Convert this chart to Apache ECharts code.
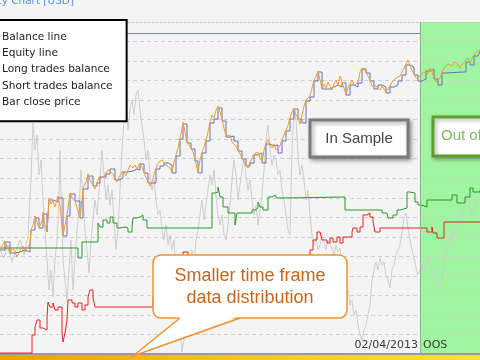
<!DOCTYPE html>
<html><head><meta charset="utf-8">
<script src="https://cdn.jsdelivr.net/npm/echarts@6/dist/echarts.min.js"></script>
<style>html,body{margin:0;padding:0;background:#f4f4f4;}#c{width:480px;height:360px;}</style>
</head><body><div id="c"></div>
<script>
// x = bar number, y = balance units
const seriesNames = ['Balance line','Equity line','Long trades balance','Short trades balance','Bar close price'];
const oosStart = 420, lastBar = 480;
const oosDate = '02/04/2013', oosLabel = 'OOS';
const maxLevel = 321;
const yMax = 332, gridSteps = 17;

const equity = [[0,104],[3,110],[5,113],[7,107],[10,101],[13,106],[15,102],[17,97],[20,104],[23,108],[25,102],[28,107],[30,110],[31,124],[33,129],[35,138],[37,132],[39,126],[42,133],[43,142],[45,128],[47,122],[49,156],[51,150],[53,153],[55,147],[58,158],[60,148],[63,118],[65,129],[67,139],[69,154],[70,161],[72,156],[75,154],[77,146],[80,136],[82,154],[83,166],[86,172],[88,180],[90,174],[93,169],[95,165],[97,172],[100,178],[103,176],[106,181],[108,184],[110,186],[113,180],[115,175],[117,172],[119,177],[121,180],[123,183],[126,178],[128,184],[130,189],[133,186],[135,189],[137,185],[140,191],[142,190],[144,182],[146,176],[148,172],[150,168],[152,172],[154,179],[156,186],[158,191],[160,189],[162,194],[164,192],[166,189],[168,190],[170,186],[172,182],[174,192],[176,199],[178,206],[180,216],[182,226],[183,232],[185,222],[187,212],[189,214],[191,206],[193,202],[195,194],[197,186],[198,182],[200,194],[202,202],[204,207],[206,214],[208,222],[210,232],[212,239],[214,236],[216,244],[218,248],[220,242],[222,234],[224,226],[226,218],[228,216],[230,219],[232,212],[234,214],[236,208],[238,204],[240,200],[242,196],[244,194],[246,189],[248,186],[250,192],[252,196],[254,200],[256,198],[258,202],[260,196],[262,192],[264,204],[266,211],[268,214],[270,209],[272,206],[274,210],[276,204],[278,202],[280,208],[282,214],[284,219],[286,224],[288,229],[290,236],[292,242],[294,246],[296,239],[298,236],[300,230],[302,232],[304,248],[306,254],[308,256],[310,258],[312,266],[314,274],[316,278],[318,283],[320,274],[322,266],[324,270],[326,266],[328,272],[330,268],[332,264],[334,270],[336,274],[338,268],[340,278],[342,272],[344,266],[346,260],[348,266],[350,270],[352,274],[354,268],[356,266],[358,272],[360,282],[362,286],[364,288],[366,282],[368,278],[370,274],[372,268],[374,266],[376,268],[378,270],[380,264],[382,268],[384,266],[386,262],[388,264],[390,268],[392,272],[394,270],[396,276],[398,274],[400,278],[402,280],[404,286],[406,290],[408,294],[410,288],[412,284],[414,280],[416,276],[418,274],[420,278],[422,276],[424,282],[426,284],[428,280],[430,286],[432,282],[434,276],[436,272],[438,270],[440,276],[442,282],[444,286],[446,288],[448,290],[450,292],[452,288],[454,292],[456,294],[458,290],[460,286],[462,288],[464,292],[466,294],[468,296],[470,290],[472,296],[474,299],[476,302],[478,300],[480,304]];

const balance = [[0,104],[5,112],[10,101],[15,102],[20,104],[25,102],[30,110],[31,124],[35,136],[39,126],[43,140],[47,122],[49,154],[53,152],[58,156],[63,118],[67,138],[70,160],[75,153],[80,136],[83,165],[88,178],[93,168],[97,171],[100,177],[106,180],[110,185],[115,174],[119,176],[123,182],[128,183],[133,185],[137,184],[140,190],[144,181],[148,171],[152,171],[156,185],[160,188],[164,191],[168,189],[172,181],[176,198],[180,215],[183,230],[187,211],[191,205],[195,193],[198,181],[202,201],[206,213],[210,231],[214,235],[218,246],[222,233],[226,217],[230,218],[234,213],[238,203],[242,195],[246,188],[250,191],[254,199],[258,201],[262,191],[266,210],[270,208],[274,209],[278,201],[282,213],[286,223],[290,235],[294,245],[298,235],[302,231],[306,253],[310,257],[314,273],[318,282],[322,265],[326,265],[330,267],[334,269],[338,267],[342,271],[346,259],[350,269],[354,267],[358,271],[362,285],[366,281],[370,273],[374,265],[378,269],[382,267],[386,261],[390,267],[394,269],[398,273],[402,279],[406,289],[410,287],[414,279],[418,273],[422,275],[426,283],[430,285],[434,275],[438,269],[442,281],[445,282],[463,282],[466,292],[470,289],[474,298],[478,299],[480,303]];

const longBal = [[0,106],[78,96],[82,112],[98,131],[100,127],[103,134],[107,131],[110,137],[113,131],[117,126],[120,127],[125,126],[128,122],[132,127],[133,136],[137,137],[140,139],[143,134],[147,126],[212,161],[215,162],[218,167],[220,157],[223,147],[228,141],[235,129],[237,141],[252,144],[255,146],[258,152],[260,147],[263,144],[268,157],[272,159],[275,161],[277,156],[280,157],[345,144],[382,141],[387,139],[388,136],[393,139],[397,144],[400,146],[407,162],[410,161],[415,152],[418,149],[421,147],[427,154],[452,159],[457,151],[465,157],[470,166],[473,162],[480,164]];

const shortBal = [[0,1],[32,19],[35,27],[37,34],[40,26],[43,24],[47,37],[48,52],[50,47],[53,51],[55,44],[58,47],[62,21],[63,12],[65,21],[67,34],[68,54],[72,51],[75,47],[78,51],[82,44],[85,49],[88,57],[90,64],[93,56],[95,47],[153,57],[160,69],[175,79],[183,102],[188,84],[220,79],[260,86],[300,92],[310,104],[313,114],[317,122],[320,121],[322,114],[327,111],[330,116],[333,112],[337,117],[340,111],[343,117],[352,122],[353,126],[357,122],[360,127],[363,139],[367,141],[370,137],[373,132],[375,122],[380,126],[427,122],[432,127],[433,121],[437,116],[444,132],[480,132]];

const closePrice = [[0,104],[4,96],[8,109],[12,92],[16,104],[20,114],[24,99],[28,119],[31,174],[33,231],[35,204],[37,219],[39,179],[41,194],[43,154],[45,124],[47,94],[49,64],[51,84],[53,57],[55,94],[57,114],[59,154],[60,204],[61,164],[63,94],[65,74],[67,54],[69,84],[71,114],[73,64],[75,94],[77,124],[79,144],[81,184],[83,154],[85,124],[87,104],[89,81],[91,114],[93,134],[95,154],[97,139],[100,174],[102,204],[104,179],[106,154],[108,169],[110,149],[112,164],[114,134],[116,104],[118,124],[120,164],[122,204],[124,234],[126,249],[128,224],[130,244],[132,254],[134,239],[136,259],[138,264],[140,244],[142,229],[144,214],[146,194],[148,204],[150,179],[152,164],[154,174],[156,154],[158,139],[160,144],[162,124],[164,114],[166,129],[168,109],[170,119],[172,104],[174,114],[176,84],[178,54],[180,24],[182,2],[184,14],[186,54],[188,74],[190,94],[192,104],[194,89],[196,114],[198,124],[200,139],[202,154],[204,134],[206,149],[208,164],[210,179],[212,169],[214,184],[216,159],[218,139],[220,129],[222,139],[224,119],[226,114],[228,129],[230,149],[232,174],[234,194],[236,179],[238,154],[240,169],[242,184],[244,194],[246,179],[248,164],[250,174],[252,154],[254,139],[256,149],[258,129],[260,144],[262,159],[264,184],[266,214],[268,229],[270,204],[272,189],[274,199],[276,194],[278,179],[280,184],[282,164],[284,154],[286,139],[288,124],[290,119],[292,204],[294,244],[296,234],[298,199],[300,179],[302,189],[304,174],[306,154],[308,164],[310,139],[312,119],[314,109],[316,116],[318,104],[320,109],[322,119],[324,112],[326,104],[328,114],[330,116],[332,106],[334,99],[336,109],[338,102],[340,106],[342,89],[344,74],[346,59],[348,64],[350,49],[352,54],[354,39],[356,44],[358,29],[360,19],[362,14],[364,24],[366,29],[368,39],[370,49],[372,74],[374,84],[376,92],[378,84],[380,96],[382,89],[384,92],[386,79],[388,74],[390,66],[392,84],[394,89],[396,99],[398,104],[400,109],[402,122],[404,136],[406,141],[408,126],[410,114],[412,104],[414,96],[416,86],[418,79],[420,84],[422,89],[424,82],[426,92],[428,96],[430,94],[432,86],[434,79],[436,72],[438,64],[440,69],[442,74],[444,89],[446,104],[448,109],[450,114],[452,122],[454,116],[456,126],[458,132],[460,136],[462,142],[464,149],[466,154],[468,159],[470,149],[472,139],[474,144],[476,149],[478,154],[480,152]];

const chart = echarts.init(document.getElementById('c'), null, {renderer:'canvas'});
const lineBase = {type:'line', symbol:'none', silent:true, animation:false};
chart.setOption({
  backgroundColor:'#f4f4f4',
  animation:false,
  grid:{left:0, right:0, top:22, bottom:6},
  xAxis:[{type:'value', min:0, max:lastBar, position:'bottom', z:2,
    axisLine:{show:true, lineStyle:{color:'#9a9a9a', width:2}}, axisTick:{show:false}, axisLabel:{show:false}, splitLine:{show:false}},
   {type:'value', min:0, max:lastBar, position:'top', z:2,
    axisLine:{show:true, lineStyle:{color:'#c4c4c4', width:1, type:[2,2]}}, axisTick:{show:false}, axisLabel:{show:false}, splitLine:{show:false}}],
  yAxis:{type:'value', min:0, max:yMax, interval:yMax/gridSteps, z:2,
    axisLine:{show:false}, axisTick:{show:false}, axisLabel:{show:false},
    splitLine:{show:true, showMinLine:false, showMaxLine:false, lineStyle:{color:'#cfcfcf', width:1, type:[4,3]}}},
  legend:{orient:'vertical', left:-10, top:20, z:20, selectedMode:false,
    padding:[9,14,11,7], itemGap:0, itemWidth:0, itemHeight:0, icon:'rect',
    backgroundColor:'#ffffff', borderColor:'#000', borderWidth:2,
    textStyle:{fontFamily:'DejaVu Sans', fontSize:10.6, color:'#222', lineHeight:16.25},
    data:seriesNames},
  series:[
    Object.assign({}, lineBase, {name:'oos', data:[], z:1,
      markArea:{silent:true, itemStyle:{color:'#a0f5a0'}, data:[[{xAxis:oosStart},{xAxis:lastBar}]]},
      markLine:{silent:true, symbol:'none', label:{show:false}, lineStyle:{color:'#8fae8f', width:1, type:'solid'},
        data:[{xAxis:oosStart}]}}),
    Object.assign({}, lineBase, {name:'level', data:[], z:3,
      markLine:{silent:true, symbol:'none', label:{show:false}, lineStyle:{color:'#7c7cd6', width:1, type:'solid'},
        data:[[{coord:[0,maxLevel]},{coord:[oosStart,maxLevel]}]]}}),
    Object.assign({}, lineBase, {name:seriesNames[4], data:closePrice, z:3, color:'#cdcdcd', lineStyle:{color:'#cdcdcd', width:1}}),
    Object.assign({}, lineBase, {name:seriesNames[3], data:shortBal, z:4, step:'end', color:'#e52222', lineStyle:{color:'#e52222', width:1}}),
    Object.assign({}, lineBase, {name:seriesNames[2], data:longBal, z:4, step:'end', color:'#2a962a', lineStyle:{color:'#2a962a', width:1}}),
    Object.assign({}, lineBase, {name:seriesNames[0], data:balance, z:5, step:'end', color:'#6b6fb8', lineStyle:{color:'#6b6fb8', width:1}}),
    Object.assign({}, lineBase, {name:seriesNames[1], data:equity, z:6, color:'#f39c2b', lineStyle:{color:'#f39c2b', width:1}})
  ],
  graphic:[
    {type:'text', z:30, x:74, y:7, style:{text:'Equity Chart [USD]', fill:'#5b8fd8', font:'10.5px "DejaVu Sans"', textAlign:'right', textVerticalAlign:'bottom'}},
    {type:'rect', z:30, shape:{x:0, y:355, width:480, height:5}, style:{fill:new echarts.graphic.LinearGradient(0,0,1,0,[{offset:0,color:'#e8a400'},{offset:0.5,color:'#f2c81a'},{offset:1,color:'#f6e52a'}])}},
    {type:'text', z:30, x:418, y:351, style:{text:oosDate, fill:'#3a3a3a', font:'11px "DejaVu Sans"', textAlign:'right', textVerticalAlign:'bottom'}},
    {type:'text', z:30, x:423, y:351, style:{text:oosLabel, fill:'#3a3a3a', font:'11px "DejaVu Sans"', textAlign:'left', textVerticalAlign:'bottom'}},
    {type:'rect', z:30, shape:{x:310, y:120, width:98, height:37}, style:{fill:'#fff', stroke:'#7a7a7a', lineWidth:3, shadowBlur:4, shadowOffsetX:2, shadowOffsetY:2, shadowColor:'rgba(0,0,0,0.35)'}},
    {type:'text', z:31, x:359, y:139, style:{text:'In Sample', fill:'#444', font:'15px "Liberation Sans"', textAlign:'center', textVerticalAlign:'middle'}},
    {type:'rect', z:30, shape:{x:433, y:117, width:80, height:39}, style:{fill:'#fff', stroke:'#5e9e2e', lineWidth:3, shadowBlur:4, shadowOffsetX:2, shadowOffsetY:2, shadowColor:'rgba(0,0,0,0.3)'}},
    {type:'text', z:31, x:441, y:136, style:{text:'Out of Sample', fill:'#80b45a', font:'15px "Liberation Sans"', textAlign:'left', textVerticalAlign:'middle'}},
    {type:'rect', z:30, shape:{x:153, y:255, width:194, height:63, r:8}, style:{fill:'#fff', stroke:'#f0922e', lineWidth:1.5}},
    {type:'polygon', z:31, shape:{points:[[181,316],[133,356],[239,316]]}, style:{fill:'#fff'}},
    {type:'polyline', z:32, shape:{points:[[180,318],[133,356],[240,318]]}, style:{fill:null, stroke:'#f0922e', lineWidth:1.5}},
    {type:'text', z:33, x:250, y:276, style:{text:'Smaller time frame', fill:'#c4661f', font:'18px "Liberation Sans"', textAlign:'center', textVerticalAlign:'middle'}},
    {type:'text', z:33, x:250, y:298, style:{text:'data distribution', fill:'#c4661f', font:'18px "Liberation Sans"', textAlign:'center', textVerticalAlign:'middle'}}
  ]
});
</script></body></html>
